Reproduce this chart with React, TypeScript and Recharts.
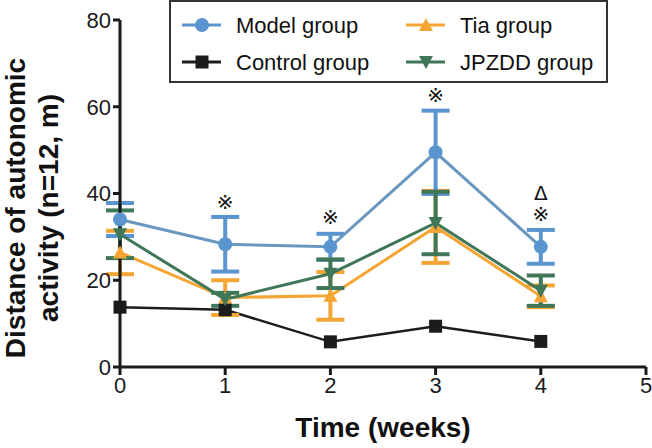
import React from 'react'
import {
  ComposedChart,
  Line,
  XAxis,
  YAxis,
  ErrorBar,
  ReferenceDot,
} from 'recharts'

const weeks = [0, 1, 2, 3, 4]
const xTicks = [0, 1, 2, 3, 4, 5]
const yTicks = [0, 20, 40, 60, 80]

const modelVals = [34, 28.3, 27.7, 49.5, 27.7]
const modelErr = [3.8, 6.3, 3, 9.6, 3.9]
const controlVals = [13.8, 13.2, 5.8, 9.4, 5.9]
const tiaVals = [26.4, 16, 16.4, 32.3, 16.3]
const tiaErr = [5, 4, 5.5, 8.3, 2.5]
const jpzddVals = [30.6, 15.6, 21.5, 33.2, 17.6]
const jpzddErr = [5.5, 1.5, 3.3, 7.2, 3.5]

const markX = [1, 2, 3, 4, 4]
const markY = [38, 34.5, 62.8, 35.2, 40.2]
const markText = ['※', '※', '※', '※', 'Δ']

const FONT = '"Liberation Sans", Arial, sans-serif'

const colors = {
  model: '#5b95cf',
  modelLine: '#6a97bf',
  control: '#1c1c1c',
  tia: '#f4a534',
  jpzdd: '#3f7758',
}

const data = weeks.map((w, i) => ({
  week: w,
  model: modelVals[i],
  modelErr: modelErr[i],
  control: controlVals[i],
  tia: tiaVals[i],
  tiaErr: tiaErr[i],
  jpzdd: jpzddVals[i],
  jpzddErr: jpzddErr[i],
}))

function Marker({ kind, cx, cy, color }: { kind: string; cx: number; cy: number; color: string }) {
  if (kind === 'circle') return <circle cx={cx} cy={cy} r={7} fill={color} />
  if (kind === 'square') return <rect x={cx - 6.5} y={cy - 6.5} width={13} height={13} fill={color} />
  if (kind === 'up')
    return <path d={`M${cx},${cy - 7} L${cx + 7},${cy + 6} L${cx - 7},${cy + 6} Z`} fill={color} />
  return <path d={`M${cx},${cy + 7} L${cx + 7},${cy - 6} L${cx - 7},${cy - 6} Z`} fill={color} />
}

const dotFn = (kind: string, color: string) => (p: any) => (
  <Marker key={`${kind}-${p.index}`} kind={kind} cx={p.cx} cy={p.cy} color={color} />
)

const legendItems = [
  { name: 'Model group', kind: 'circle', color: colors.model, x: 13, y: 25 },
  { name: 'Tia group', kind: 'up', color: colors.tia, x: 237, y: 25 },
  { name: 'Control group', kind: 'square', color: colors.control, x: 13, y: 62 },
  { name: 'JPZDD group', kind: 'down', color: colors.jpzdd, x: 237, y: 62 },
]

function LegendBox() {
  return (
    <svg width={440} height={84} style={{ display: 'block' }}>
      <rect x={1} y={1} width={437} height={81} fill="#fff" stroke="#333" strokeWidth={2} />
      {legendItems.map((it) => (
        <g key={it.name}>
          <line x1={it.x} x2={it.x + 39} y1={it.y} y2={it.y} stroke={it.color} strokeWidth={3} />
          <Marker kind={it.kind} cx={it.x + 20} cy={it.y} color={it.color} />
          <text x={it.x + 54} y={it.y + 8} fontSize={22} fontFamily={FONT} fill="#111">
            {it.name}
          </text>
        </g>
      ))}
    </svg>
  )
}

function YLabel() {
  return (
    <text transform="translate(0,208) rotate(-90)" textAnchor="middle" fontFamily={FONT} fontWeight="bold" fontSize={28} fill="#111">
      <tspan x={0} y={25}>Distance of autonomic</tspan>
      <tspan x={0} y={58}>activity (n=12, m)</tspan>
    </text>
  )
}

export default function App() {
  return (
    <div style={{ position: 'absolute', left: 0, top: 0, width: 652, height: 448, background: '#fff' }}>
      <ComposedChart width={652} height={448} data={data} margin={{ top: 20, right: 6, left: 0, bottom: 0 }}>
        <XAxis
          dataKey="week"
          type="number"
          domain={[0, 5]}
          ticks={xTicks}
          axisLine={{ stroke: '#1a1a1a', strokeWidth: 3 }}
          tickLine={{ stroke: '#1a1a1a', strokeWidth: 3 }}
          tickSize={8}
          tick={{ fontSize: 22, fontFamily: FONT, fill: '#1a1a1a' }}
          height={81}
          label={{ value: 'Time (weeks)', position: 'insideBottom', offset: 11, fontSize: 28, fontWeight: 'bold', fontFamily: FONT, fill: '#111' }}
        />
        <YAxis
          type="number"
          domain={[0, 80]}
          ticks={yTicks}
          width={120}
          axisLine={{ stroke: '#1a1a1a', strokeWidth: 3 }}
          tickLine={{ stroke: '#1a1a1a', strokeWidth: 3 }}
          tickSize={7}
          tick={{ fontSize: 22, fontFamily: FONT, fill: '#1a1a1a' }}
          label={<YLabel />}
        />
        <Line dataKey="control" stroke={colors.control} strokeWidth={2.5} dot={dotFn('square', colors.control)} isAnimationActive={false} />
        <Line dataKey="tia" stroke={colors.tia} strokeWidth={3} dot={dotFn('up', colors.tia)} isAnimationActive={false}>
          <ErrorBar dataKey="tiaErr" direction="y" width={14} strokeWidth={4} stroke={colors.tia} />
        </Line>
        <Line dataKey="model" stroke={colors.modelLine} strokeWidth={3} dot={dotFn('circle', colors.model)} isAnimationActive={false}>
          <ErrorBar dataKey="modelErr" direction="y" width={14} strokeWidth={4} stroke={colors.model} />
        </Line>
        <Line dataKey="jpzdd" stroke={colors.jpzdd} strokeWidth={3} dot={dotFn('down', colors.jpzdd)} isAnimationActive={false}>
          <ErrorBar dataKey="jpzddErr" direction="y" width={14} strokeWidth={4} stroke={colors.jpzdd} />
        </Line>
        {markX.map((x, i) => (
          <ReferenceDot
            key={i}
            x={x}
            y={markY[i]}
            r={0}
            shape={(p: any) => (
              <text x={p.cx} y={p.cy + 7} textAnchor="middle" fontSize={20} fontFamily={'"DejaVu Sans", "Noto Sans CJK SC", sans-serif'} fill="#111">
                {markText[i]}
              </text>
            )}
          />
        ))}
      </ComposedChart>
      <div style={{ position: 'absolute', left: 169, top: 0 }}>
        <LegendBox />
      </div>
    </div>
  )
}
